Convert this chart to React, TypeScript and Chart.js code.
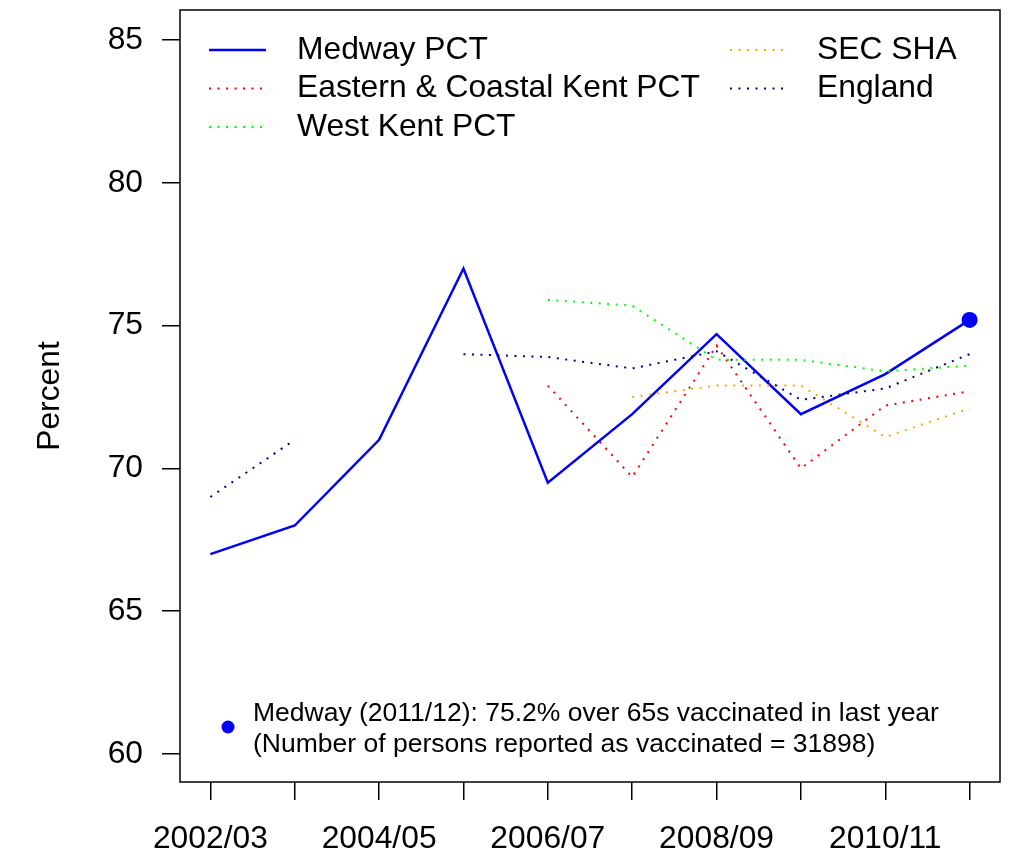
import React, { useEffect, useRef } from "react";
import { Chart, registerables } from "chart.js";

Chart.register(...registerables);

const categories = ["2002/03", "2003/04", "2004/05", "2005/06", "2006/07", "2007/08", "2008/09", "2009/10", "2010/11", "2011/12"];
const medway = [67.0, 68.0, 71.0, 77.0, 69.5, 71.9, 74.7, 71.9, 73.3, 75.2];
const easternCoastalKent = [null, null, null, null, 72.9, 69.7, 74.3, 70.0, 72.2, 72.7];
const westKent = [null, null, null, null, 75.9, 75.7, 73.8, 73.8, 73.4, 73.6];
const secSha = [null, null, null, null, null, 72.5, 72.9, 72.9, 71.1, 72.1];
const england = [69.0, 71.0, null, 74.0, 73.9, 73.5, 74.1, 72.4, 72.8, 74.0];
const yTicks = [60, 65, 70, 75, 80, 85];
const legendLabels = ["Medway PCT", "Eastern & Coastal Kent PCT", "West Kent PCT", "SEC SHA", "England"];
const annotationLines = [
  "Medway (2011/12): 75.2% over 65s vaccinated in last year",
  "(Number of persons reported as vaccinated = 31898)",
];

const FONT = "'Liberation Sans', Arial, Helvetica, sans-serif";
const colors = ["#0000FF", "#FF0000", "#00FF00", "#FFA500", "#00008B"];
const DOT = [2, 6.5];

const toPts = (arr: (number | null)[]) => arr.map((v, i) => ({ x: i, y: v }));

export default function App() {
  const ref = useRef<HTMLCanvasElement | null>(null);
  useEffect(() => {
    document.body.style.margin = "0";
    const canvas = ref.current!;
    const boxPlugin = {
      id: "rbox",
      afterDraw(chart: any) {
        const ctx = chart.ctx;
        const a = chart.chartArea;
        ctx.save();
        ctx.strokeStyle = "#000";
        ctx.lineWidth = 1.5;
        ctx.strokeRect(a.left, a.top, a.right - a.left, a.bottom - a.top);
        // legend
        ctx.font = `31.8px ${FONT}`;
        ctx.textBaseline = "middle";
        ctx.fillStyle = "#000";
        const rows = [50, 88.5, 127];
        const items = [
          { col: 0, row: 0 },
          { col: 0, row: 1 },
          { col: 0, row: 2 },
          { col: 1, row: 0 },
          { col: 1, row: 1 },
        ];
        const sx = [[209, 266], [730, 787]];
        const tx = [297, 817];
        items.forEach((it, i) => {
          const y = rows[it.row];
          ctx.strokeStyle = colors[i];
          ctx.lineWidth = i === 0 ? 2.5 : 2;
          ctx.setLineDash(i === 0 ? [] : DOT);
          ctx.beginPath();
          ctx.moveTo(sx[it.col][0], y);
          ctx.lineTo(sx[it.col][1], y);
          ctx.stroke();
          ctx.setLineDash([]);
          ctx.fillText(legendLabels[i], tx[it.col], y);
        });
        // annotation
        ctx.fillStyle = "#0000FF";
        ctx.beginPath();
        ctx.arc(228, 727, 6.5, 0, Math.PI * 2);
        ctx.fill();
        ctx.fillStyle = "#000";
        ctx.font = `26.5px ${FONT}`;
        ctx.fillText(annotationLines[0], 253, 714);
        ctx.fillText(annotationLines[1], 253, 745);
        ctx.restore();
      },
    };
    const dashed = (label: string, data: (number | null)[], color: string) => ({
      label,
      data: toPts(data),
      borderColor: color,
      backgroundColor: color,
      borderWidth: 2,
      borderDash: DOT,
      pointRadius: 0,
      spanGaps: false,
      tension: 0,
    });
    const chart = new Chart(canvas, {
      type: "line",
      data: {
        datasets: [
          dashed(legendLabels[4], england, colors[4]),
          dashed(legendLabels[3], secSha, colors[3]),
          dashed(legendLabels[2], westKent, colors[2]),
          dashed(legendLabels[1], easternCoastalKent, colors[1]),
          {
            label: legendLabels[0],
            data: toPts(medway),
            borderColor: colors[0],
            backgroundColor: colors[0],
            borderWidth: 2.5,
            pointRadius: medway.map((_, i) => (i === medway.length - 1 ? 8 : 0)),
            pointBorderWidth: 0,
            tension: 0,
          },
        ],
      },
      options: {
        responsive: false,
        animation: false,
        devicePixelRatio: 1,
        layout: { padding: { top: 10, right: 15, left: 0, bottom: 0 } },
        plugins: { legend: { display: false }, tooltip: { enabled: false } },
        scales: {
          x: {
            type: "linear",
            min: -0.36,
            max: 9.36,
            afterBuildTicks: (s: any) => {
              s.ticks = categories.map((_, i) => ({ value: i }));
            },
            afterFit: (s: any) => {
              s.height = 77;
              s.paddingLeft = 0;
              s.paddingRight = 0;
            },
            ticks: {
              autoSkip: false,
              maxRotation: 0,
              padding: 20,
              color: "#000",
              font: { family: FONT, size: 31.8 },
              callback: (v: any) => (Number(v) % 2 === 0 ? categories[Number(v)] : ""),
            },
            grid: { drawOnChartArea: false, drawTicks: true, tickLength: 18, color: "#000", lineWidth: 1.5 },
            border: { display: false },
          },
          y: {
            type: "linear",
            min: 59.02,
            max: 86.05,
            afterBuildTicks: (s: any) => {
              s.ticks = yTicks.map((v) => ({ value: v }));
            },
            afterFit: (s: any) => {
              s.width = 180;
              s.paddingTop = 0;
              s.paddingBottom = 0;
            },
            ticks: {
              padding: 19,
              color: "#000",
              font: { family: FONT, size: 31.8 },
              callback: (v: any) => String(v),
            },
            grid: { drawOnChartArea: false, drawTicks: true, tickLength: 18, color: "#000", lineWidth: 1.5 },
            border: { display: false },
            title: {
              display: true,
              text: "Percent",
              color: "#000",
              font: { family: FONT, size: 31.8 },
              padding: { top: 31, bottom: 0 },
            },
          },
        },
      },
      plugins: [boxPlugin],
    } as any);
    return () => chart.destroy();
  }, []);
  return (
    <div style={{ position: "absolute", left: 0, top: 0, width: 1015, height: 859, background: "#fff" }}>
      <canvas ref={ref} width={1015} height={859} style={{ width: 1015, height: 859, display: "block" }} />
    </div>
  );
}
